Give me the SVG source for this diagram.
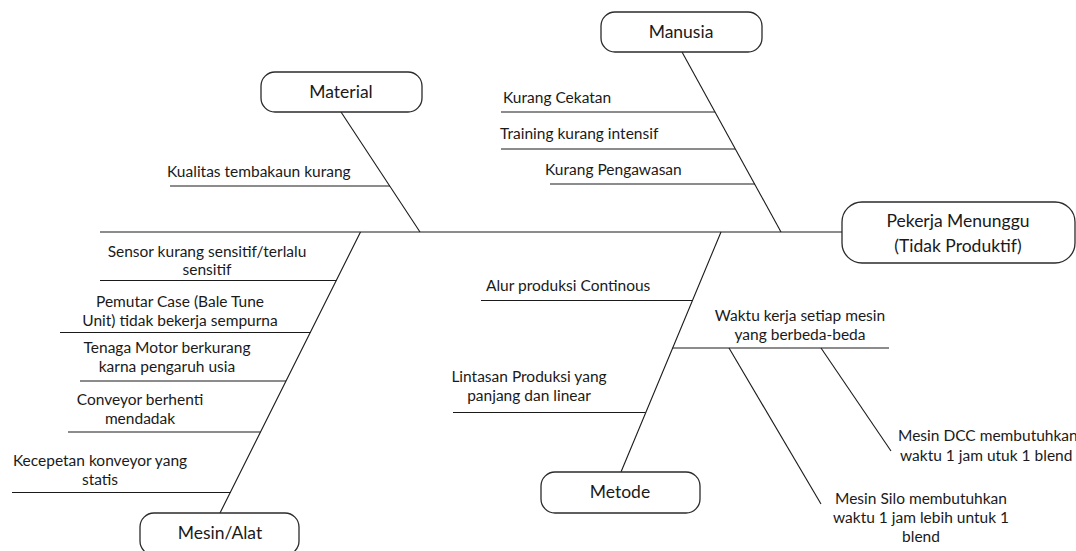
<svg xmlns="http://www.w3.org/2000/svg" width="1076" height="551" viewBox="0 0 1076 551">
<style>
.bg{fill:#ffffff}
.box{fill:#ffffff;stroke:#2b2b2b;stroke-width:1.3}
.ln{stroke:#1a1a1a;stroke-width:1.1;fill:none}
.t{font-family:Lato,"Liberation Sans",sans-serif;font-size:15.5px;fill:#1a1a1a}
.h{font-family:Lato,"Liberation Sans",sans-serif;font-size:17.5px;fill:#1a1a1a;text-anchor:middle}
.m{text-anchor:middle}
</style>
<rect class="bg" x="0" y="0" width="1076" height="551"/>
<g id="connectors">
  <line class="ln" x1="100" y1="232" x2="842" y2="232"/>
  <line class="ln" x1="341" y1="112" x2="420" y2="232"/>
  <line class="ln" x1="170" y1="186" x2="390" y2="186"/>
  <line class="ln" x1="682" y1="52" x2="781" y2="232"/>
  <line class="ln" x1="501" y1="112" x2="715" y2="112"/>
  <line class="ln" x1="501" y1="149" x2="735" y2="149"/>
  <line class="ln" x1="550" y1="184" x2="755" y2="184"/>
  <line class="ln" x1="360.5" y1="232" x2="220" y2="513"/>
  <line class="ln" x1="100" y1="280.5" x2="336.5" y2="280.5"/>
  <line class="ln" x1="60" y1="332.5" x2="310.5" y2="332.5"/>
  <line class="ln" x1="80" y1="381" x2="286" y2="381"/>
  <line class="ln" x1="68" y1="432" x2="260.5" y2="432"/>
  <line class="ln" x1="12" y1="492.5" x2="230.5" y2="492.5"/>
  <line class="ln" x1="721" y1="232" x2="621" y2="472"/>
  <line class="ln" x1="481" y1="300.5" x2="692.5" y2="300.5"/>
  <line class="ln" x1="672.5" y1="348" x2="889" y2="348"/>
  <line class="ln" x1="453" y1="412.5" x2="645.5" y2="412.5"/>
  <line class="ln" x1="821" y1="348" x2="891" y2="451"/>
  <line class="ln" x1="729" y1="348" x2="821" y2="504"/>
</g>
<g id="effect">
  <rect class="box" x="842" y="202" width="233" height="61" rx="20"/>
  <text class="h" x="958" y="227">Pekerja Menunggu</text>
  <text class="h" x="958" y="252">(Tidak Produktif)</text>
</g>
<g id="material">
  <rect class="box" x="261" y="72" width="161" height="40" rx="14"/>
  <text class="h" x="341" y="98">Material</text>
</g>
<g id="manusia">
  <rect class="box" x="601" y="12" width="161" height="40" rx="14"/>
  <text class="h" x="681" y="38">Manusia</text>
</g>
<g id="mesin">
  <rect class="box" x="140" y="513" width="159" height="42" rx="14"/>
  <text class="h" x="220" y="539">Mesin/Alat</text>
</g>
<g id="metode">
  <rect class="box" x="541" y="472" width="159" height="41" rx="14"/>
  <text class="h" x="620" y="498">Metode</text>
</g>
<g id="cause-material">
  <text class="t" x="167" y="177">Kualitas tembakaun kurang</text>
</g>
<g id="cause-manusia">
  <text class="t" x="503" y="103">Kurang Cekatan</text>
  <text class="t" x="500" y="139">Training kurang intensif</text>
  <text class="t" x="545" y="175">Kurang Pengawasan</text>
</g>
<g id="cause-mesin">
  <text class="t m" x="207" y="257">Sensor kurang sensitif/terlalu</text>
  <text class="t m" x="207" y="275">sensitif</text>
  <text class="t m" x="180" y="307">Pemutar Case (Bale Tune</text>
  <text class="t m" x="180" y="326">Unit) tidak bekerja sempurna</text>
  <text class="t m" x="167" y="353">Tenaga Motor berkurang</text>
  <text class="t m" x="167" y="372">karna pengaruh usia</text>
  <text class="t m" x="140" y="405">Conveyor berhenti</text>
  <text class="t m" x="140" y="424">mendadak</text>
  <text class="t m" x="100" y="466">Kecepetan konveyor yang</text>
  <text class="t m" x="100" y="485">statis</text>
</g>
<g id="cause-metode">
  <text class="t" x="486" y="291">Alur produksi Continous</text>
  <text class="t m" x="800" y="321">Waktu kerja setiap mesin</text>
  <text class="t m" x="800" y="340">yang berbeda-beda</text>
  <text class="t m" x="529" y="382">Lintasan Produksi yang</text>
  <text class="t m" x="529" y="401">panjang dan linear</text>
  <text class="t" x="898" y="441">Mesin DCC membutuhkan</text>
  <text class="t" x="900" y="461">waktu 1 jam utuk 1 blend</text>
  <text class="t m" x="921" y="504">Mesin Silo membutuhkan</text>
  <text class="t m" x="921" y="523">waktu 1 jam lebih untuk 1</text>
  <text class="t m" x="921" y="542">blend</text>
</g>
</svg>
